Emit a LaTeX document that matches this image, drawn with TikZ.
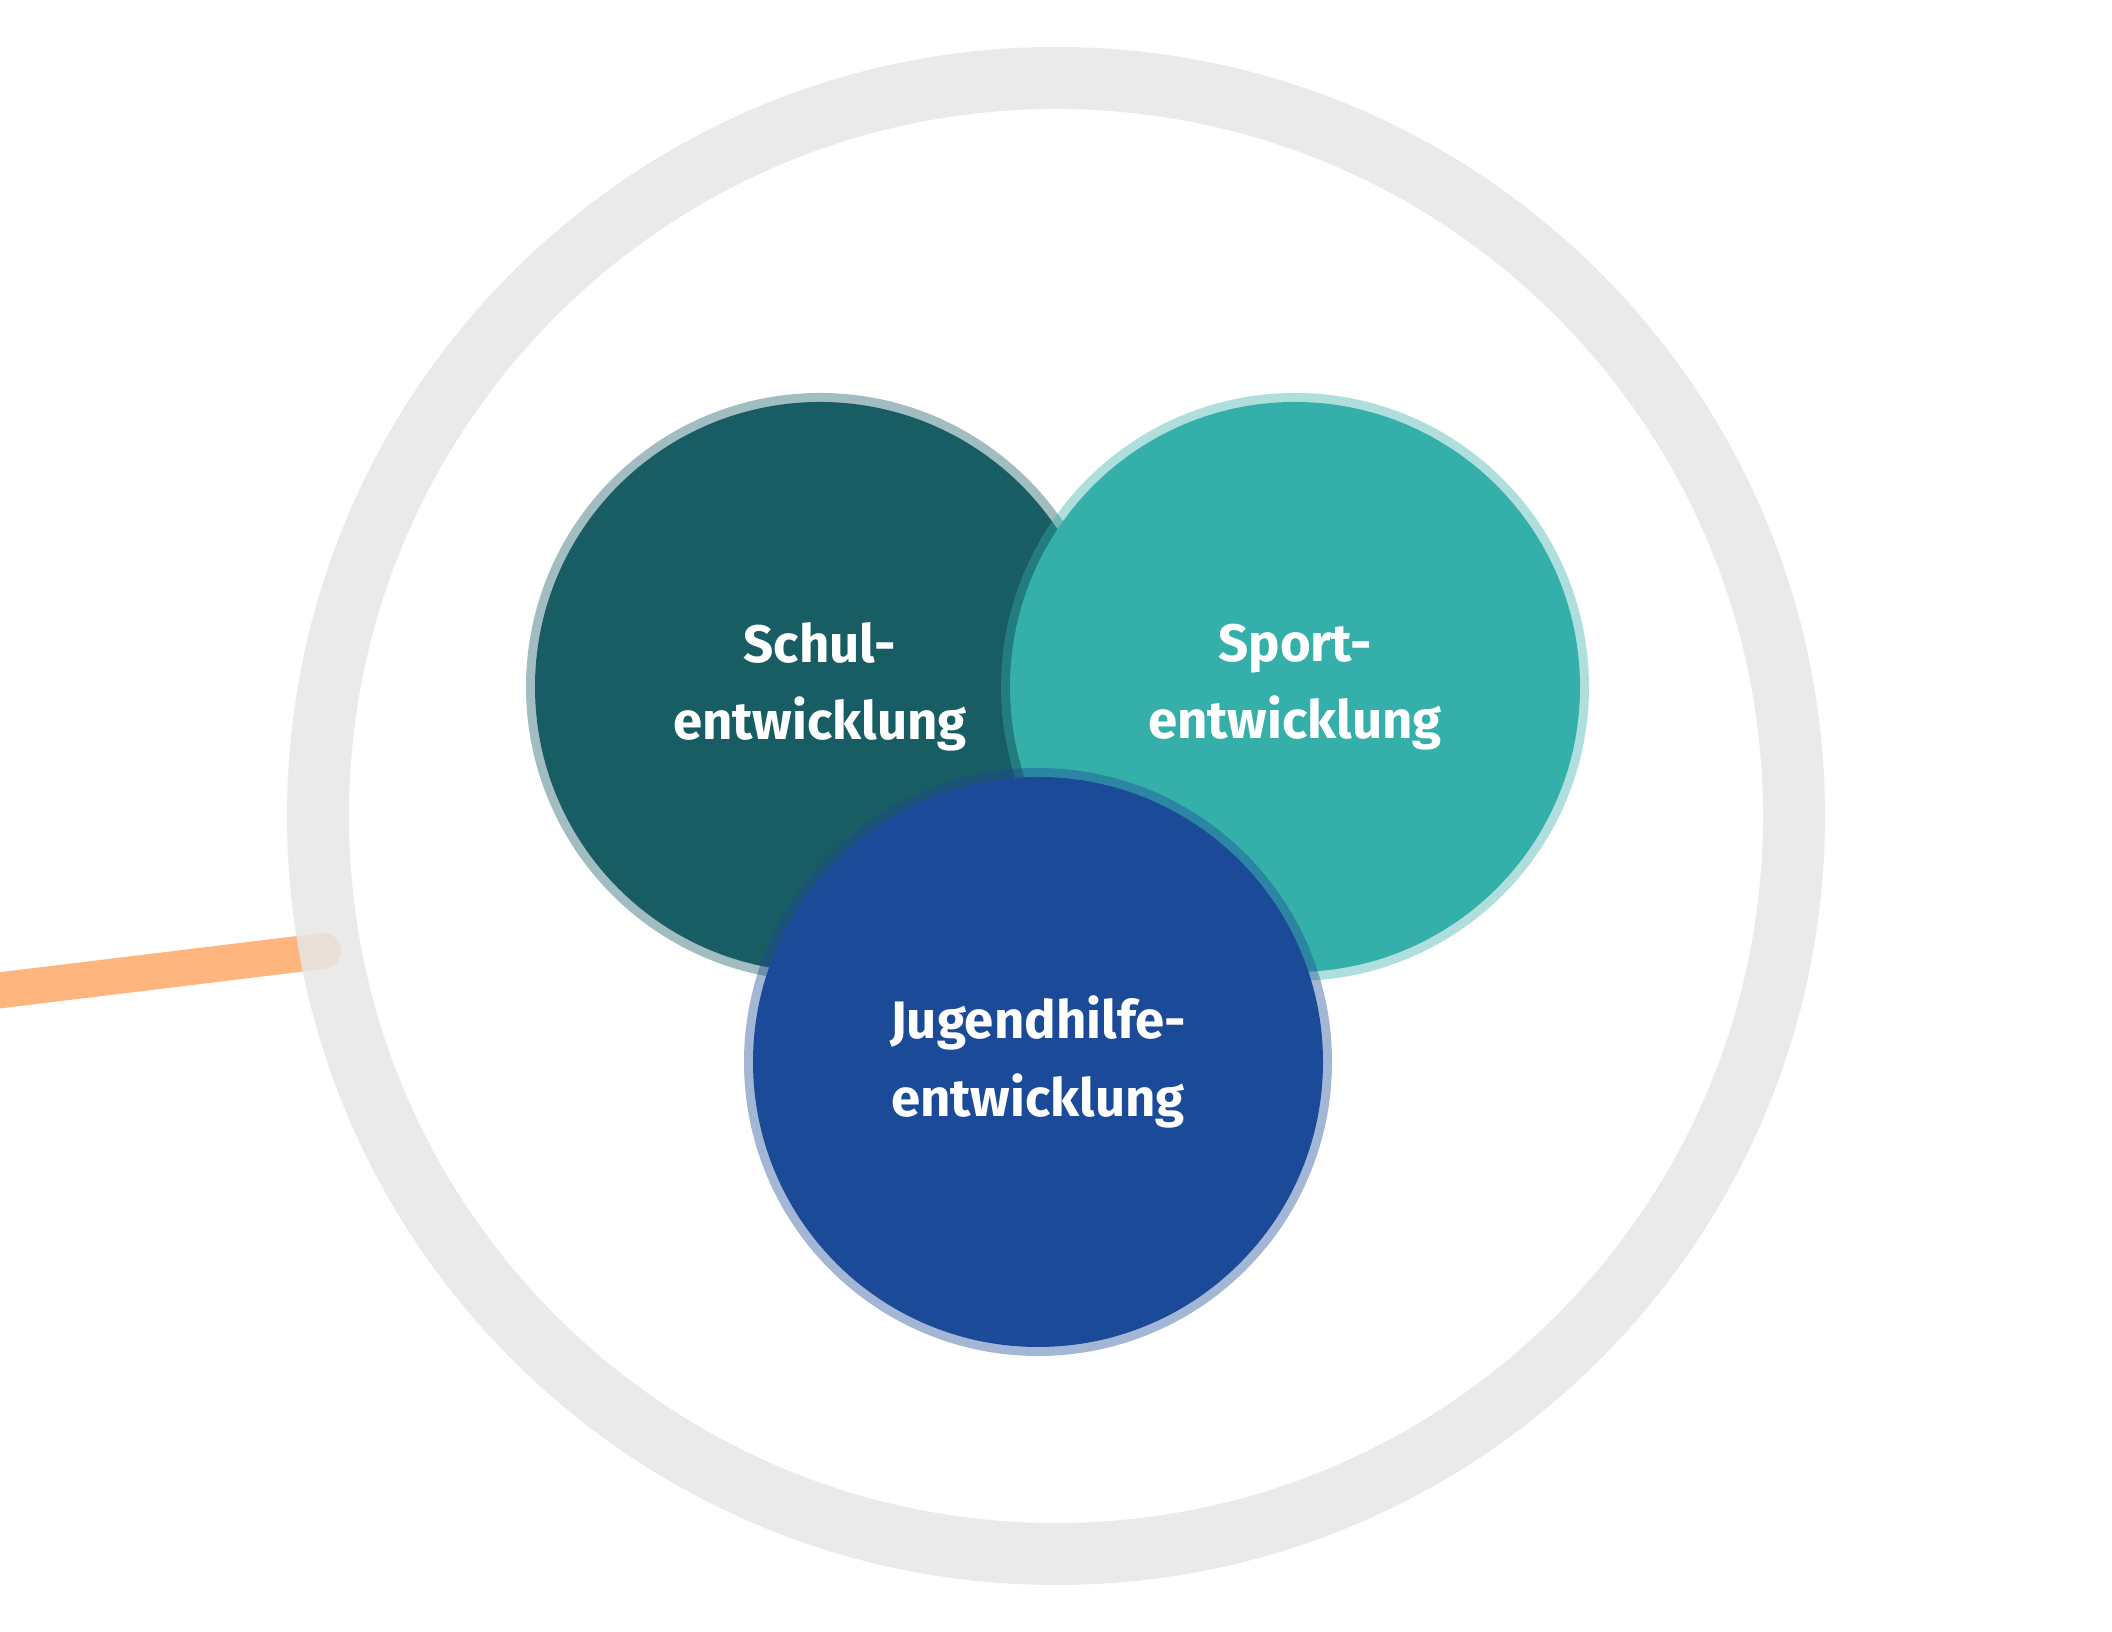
\documentclass[tikz,border=0pt]{standalone}
\usepackage{fontspec}
\setmainfont{Fira Sans}
\usepackage{tikz}

\definecolor{schul}{HTML}{185C64}
\definecolor{sport}{HTML}{35AFA9}
\definecolor{jugend}{HTML}{1B4A98}
\definecolor{rand}{HTML}{E7E7E7}
\definecolor{strich}{HTML}{FFB57E}

\begin{document}
\begin{tikzpicture}	[
		c/.style = {
			circle,
			fill = #1,
			draw = #1,
			draw opacity = .4,
			line width = 1.8mm,
			minimum size = 5.7cm,
			inner sep = 0pt,
			text = white,
			align = center,
			font = \fontsize{15}{22}\selectfont\bfseries
		}
	]
	
	\fill [white] (0,0) rectangle (21.12,16.32);
	\useasboundingbox (0,0) rectangle (21.12,16.32);

	% Strich von links
	\coordinate (anfang) at (-0.3,6.38);
	\coordinate (ende) at (3.23,6.81);
	\draw [strich, line width=3.6mm, line cap=round] (anfang) -- (ende);

	% grauer Ring
	\node (ring) [circle, draw=rand, draw opacity=.85, line width=6.2mm,
		minimum size=14.76cm, inner sep=0pt, outer sep=0pt] at (10.56,8.16) {};

	\node (schul) [c=schul] at (8.20,9.45) {Schul-\\entwicklung};
	\node (sport) [c=sport] at (12.95,9.45) {Sport-\\entwicklung};
	\node (jugend) [c=jugend] at (10.38,5.70) {Jugendhilfe-\\entwicklung};
	\end{tikzpicture}
\end{document}
